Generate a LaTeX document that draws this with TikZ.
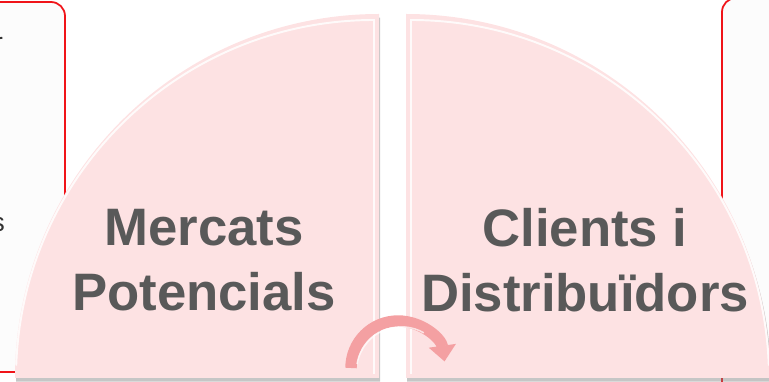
\documentclass[tikz,border=0pt]{standalone}
\usepackage{fontspec}
\usepackage{tikz}
\usetikzlibrary{arrows.meta,positioning,shadows}
\newfontfamily\labelfont{Liberation Sans}
\definecolor{quarterpink}{RGB}{253,226,227}
\definecolor{labelgray}{RGB}{89,89,89}
\definecolor{arrowpink}{RGB}{244,160,162}
\definecolor{boxred}{RGB}{240,20,25}
\tikzstyle{backbox} = [draw=boxred, line width=1pt, fill={rgb,255:red,252;green,252;blue,252}, rounded corners=8pt]
\tikzstyle{quarter} = [fill=quarterpink, drop shadow={shadow xshift=0.6pt, shadow yshift=-2pt, opacity=0.45}]
\tikzstyle{bevel} = [draw=white, line width=1.1pt, opacity=0.85]
\tikzstyle{bigtext} = [font=\labelfont\bfseries\fontsize{30}{37}\selectfont, text=labelgray, align=center]
\tikzstyle{cuttext} = [font=\labelfont\fontsize{15}{18}\selectfont, text={rgb,255:red,50;green,50;blue,50}, anchor=base east]
\tikzstyle{turnarrow} = [line width=6.5pt, arrowpink, -{Triangle[length=9pt,width=15pt]}]

\begin{document}
\begin{tikzpicture}[x=0.02cm, y=0.02cm]
	\useasboundingbox (0,0) rectangle (769,382);

	\draw[backbox] (-60,10) rectangle (65,380);
	\draw[backbox] (722,-20) rectangle (830,384);
	\node[cuttext](leftword) at (9,330) {r};
	\node[cuttext](leftword2) at (11,150) {s};

	\fill[quarter] (379,4) -- (379,368) arc[start angle=90, end angle=180, radius=364] -- cycle;
	\fill[quarter] (406,4) -- (406,368) arc[start angle=90, end angle=0, radius=364] -- cycle;
	\draw[bevel] (374,8) -- (374,362) arc[start angle=90, end angle=178, radius=358];
	\draw[bevel] (411,8) -- (411,362) arc[start angle=90, end angle=2, radius=358];

	\node[bigtext](markets) at (204,122) {Mercats\\Potencials};
	\node[bigtext](clients) at (585,122) {Clients i\\Distribuïdors};

	\coordinate (arrowfrom) at (351,14);
	\draw[turnarrow] (arrowfrom) arc[start angle=180, end angle=8, radius=47];
	\draw[white, line width=0.85pt, opacity=0.7] ([shift={(6,4)}]arrowfrom) arc[start angle=170, end angle=60, radius=45];

\end{tikzpicture}
\end{document}
